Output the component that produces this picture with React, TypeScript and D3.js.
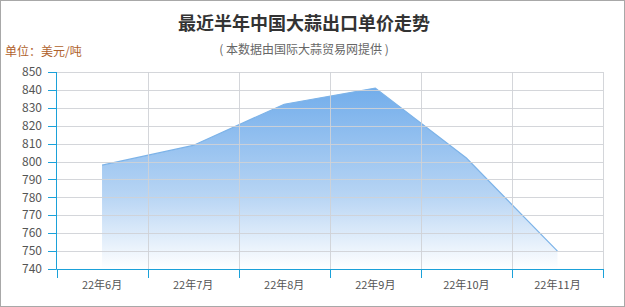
import React from "react";
import * as d3 from "d3";

const months = ["22年6月", "22年7月", "22年8月", "22年9月", "22年10月", "22年11月"];
const prices = [798, 809, 832, 841, 802, 750];
const yTicks = [740, 750, 760, 770, 780, 790, 800, 810, 820, 830, 840, 850];

const W = 625;
const H = 307;
const left = 56.5;
const right = 603;
const top = 72;
const bottom = 269;
const font = "'Noto Sans CJK SC', 'Microsoft YaHei', sans-serif";

export default function App() {
  const x = d3.scaleBand<string>().domain(months).range([left, right]);
  const y = d3.scaleLinear().domain([740, 850]).range([bottom, top]);
  const cx = (m: string) => (x(m) ?? 0) + x.bandwidth() / 2;

  const data = months.map((m, i) => ({ m, v: prices[i] }));
  const area = d3
    .area<{ m: string; v: number }>()
    .x((d) => cx(d.m))
    .y0(y(740))
    .y1((d) => y(d.v));
  const line = d3
    .line<{ m: string; v: number }>()
    .x((d) => cx(d.m))
    .y((d) => y(d.v));

  const bounds = [...months.map((m) => x(m) ?? 0), right];
  const axisColor = "#1ba1d9";
  const gridColor = "#cfd2d6";

  return (
    <svg
      width={W}
      height={H}
      style={{ position: "absolute", left: 0, top: 0, fontFamily: font }}
    >
      <defs>
        <linearGradient id="fillGrad" x1="0" y1={y(841)} x2="0" y2={bottom} gradientUnits="userSpaceOnUse">
          <stop offset="0" stopColor="#72adeb" stopOpacity={1} />
          <stop offset="0.6" stopColor="#b8d5f4" stopOpacity={1} />
          <stop offset="1" stopColor="#ffffff" stopOpacity={1} />
        </linearGradient>
      </defs>
      <rect x={0.5} y={0.5} width={W - 1} height={H - 1} fill="#fff" stroke="#a8a8a8" />

      {/* area */}
      <path d={area(data) ?? ""} fill="url(#fillGrad)" />
      <path d={line(data) ?? ""} fill="none" stroke="#7db3e8" strokeWidth={1.2} />

      {/* grid, drawn over the filled area */}
      {yTicks.map((t) => (
        <line key={"h" + t} x1={left} x2={right} y1={Math.round(y(t)) + 0.5} y2={Math.round(y(t)) + 0.5} stroke={gridColor} strokeOpacity={0.9} />
      ))}
      {bounds.slice(1).map((b, i) => (
        <line key={"v" + i} x1={Math.round(b) + 0.5} x2={Math.round(b) + 0.5} y1={top} y2={bottom} stroke={gridColor} strokeOpacity={0.9} />
      ))}

      {/* y axis */}
      <line x1={left} x2={left} y1={top} y2={bottom} stroke={axisColor} />
      {yTicks.map((t) => (
        <g key={"yt" + t}>
          <line x1={48} x2={left} y1={Math.round(y(t)) + 0.5} y2={Math.round(y(t)) + 0.5} stroke={axisColor} />
          <text x={42} y={y(t)} dy="0.35em" textAnchor="end" fontSize={12} fill="#555">
            {t}
          </text>
        </g>
      ))}

      {/* x axis */}
      <line x1={left} x2={right} y1={bottom + 0.5} y2={bottom + 0.5} stroke={axisColor} />
      {bounds.map((b, i) => (
        <line key={"xt" + i} x1={Math.round(b) + 0.5} x2={Math.round(b) + 0.5} y1={bottom} y2={bottom + 9} stroke={axisColor} />
      ))}
      {months.map((m) => (
        <text key={m} x={cx(m)} y={285} dy="0.35em" textAnchor="middle" fontSize={11} fill="#555">
          {m}
        </text>
      ))}

      {/* titles */}
      <text x={304} y={24} dy="0.35em" textAnchor="middle" fontSize={18} fontWeight="bold" fill="#333">
        最近半年中国大蒜出口单价走势
      </text>
      <text x={304} y={50} dy="0.35em" textAnchor="middle" fontSize={12} fill="#666">
        ( 本数据由国际大蒜贸易网提供 )
      </text>
      <text x={5} y={52} dy="0.35em" textAnchor="start" fontSize={12} fill="#b0622c">
        单位：美元/吨
      </text>
    </svg>
  );
}
